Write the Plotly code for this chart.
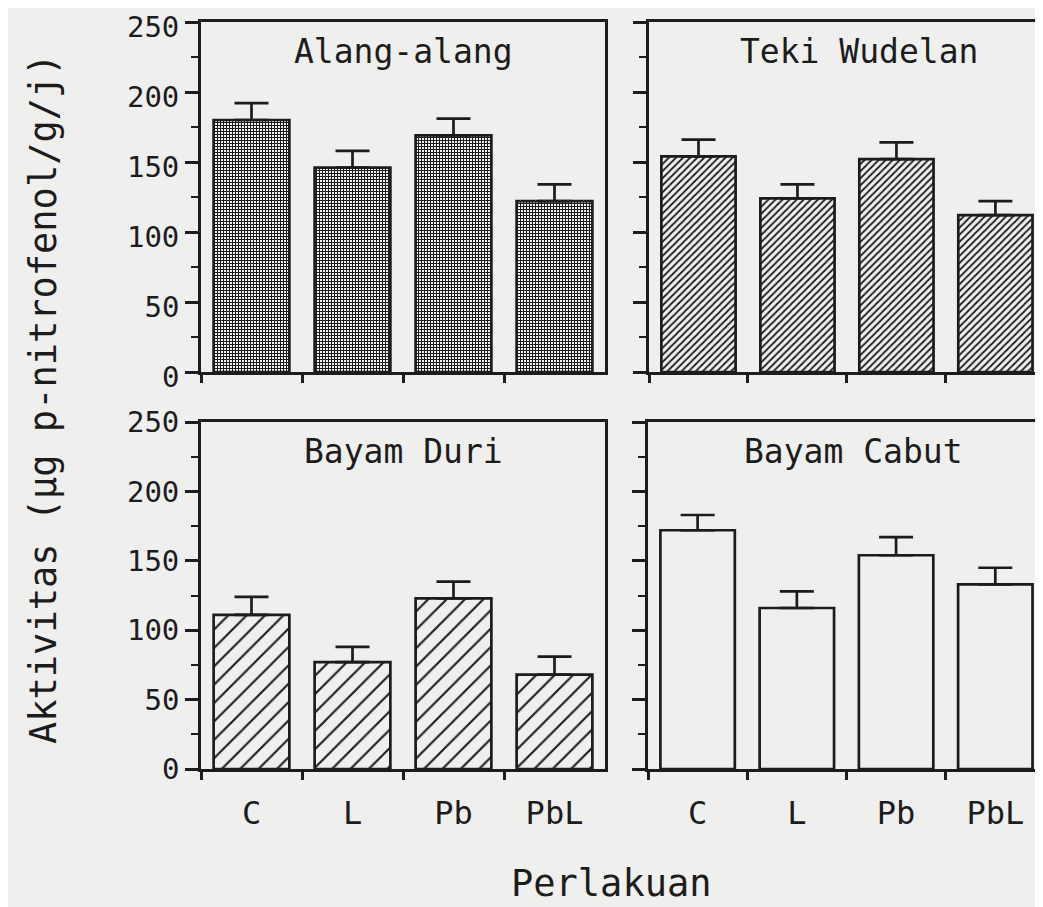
import plotly.graph_objects as go

categories = ["C", "L", "Pb", "PbL"]
panel_titles = ["Alang-alang", "Teki Wudelan", "Bayam Duri", "Bayam Cabut"]
alang_values = [180, 146, 169, 122]
alang_errors = [12, 12, 12, 12]
teki_values = [154, 124, 152, 112]
teki_errors = [12, 10, 12, 10]
duri_values = [111, 77, 123, 68]
duri_errors = [13, 11, 12, 13]
cabut_values = [172, 116, 154, 133]
cabut_errors = [11, 12, 13, 12]
y_ticks = [0, 50, 100, 150, 200, 250]
y_title = "Aktivitas (µg p-nitrofenol/g/j)"
x_title = "Perlakuan"

# page body has an 8px margin: figure is placed at (8, 8) in the window
OFF = 8
W, H = 1043 - 2 * OFF, 907 - OFF
BG = "#efefed"
INK = "#1c1c1c"
FONT = "DejaVu Sans Mono"

def px_x(s):
    return (s - OFF) / W

def px_y(s):
    return (H - (s - OFF)) / H

panels = [
    dict(vals=alang_values, errs=alang_errors, title=panel_titles[0],
         xd=[px_x(201), px_x(605)], yd=[px_y(372), px_y(22)],
         pattern=dict(shape="+", size=3, solidity=0.6, fgcolor=INK, bgcolor="white"),
         labels_y=True, labels_x=False, xr=[-0.5, 3.5], tx=0.5, shift=5),
    dict(vals=teki_values, errs=teki_errors, title=panel_titles[1],
         xd=[px_x(649), 1.0], yd=[px_y(372), px_y(22)],
         pattern=dict(shape="/", size=5, solidity=0.35, fgcolor=INK, bgcolor=BG),
         labels_y=False, labels_x=False, xr=[-0.5, 3.4], tx=0.545, shift=0),
    dict(vals=duri_values, errs=duri_errors, title=panel_titles[2],
         xd=[px_x(201), px_x(605)], yd=[px_y(769), px_y(422)],
         pattern=dict(shape="/", size=13, solidity=0.16, fgcolor=INK, bgcolor=BG),
         labels_y=True, labels_x=True, xr=[-0.5, 3.5], tx=0.5, shift=0),
    dict(vals=cabut_values, errs=cabut_errors, title=panel_titles[3],
         xd=[px_x(648), 1.0], yd=[px_y(769), px_y(422)],
         pattern=None,
         labels_y=False, labels_x=True, xr=[-0.5, 3.4], tx=0.53, shift=0),
]

fig = go.Figure()
layout = {}
annotations = []
for i, p in enumerate(panels, start=1):
    xa = "x" if i == 1 else f"x{i}"
    ya = "y" if i == 1 else f"y{i}"
    marker = dict(color=BG, line=dict(color=INK, width=2.7))
    if p["pattern"] is not None:
        marker["pattern"] = p["pattern"]
    fig.add_trace(go.Bar(
        x=categories, y=p["vals"], xaxis=xa, yaxis=ya,
        marker=marker, width=0.75, showlegend=False,
        error_y=dict(type="data", symmetric=False, array=p["errs"],
                     arrayminus=[0] * len(p["errs"]),
                     color=INK, thickness=2.7, width=17),
    ))
    xkey = "xaxis" if i == 1 else f"xaxis{i}"
    ykey = "yaxis" if i == 1 else f"yaxis{i}"
    layout[xkey] = dict(
        domain=p["xd"], anchor=ya, type="category", range=p["xr"],
        showline=True, linecolor=INK, linewidth=2.7, mirror=True,
        ticks="outside", tickson="boundaries", ticklen=8, tickwidth=2.5, tickcolor=INK,
        showticklabels=p["labels_x"], ticklabelstandoff=14,
        showgrid=False, zeroline=False, automargin=False,
        tickfont=dict(family=FONT, size=32, color=INK), fixedrange=True,
    )
    layout[ykey] = dict(
        domain=p["yd"], anchor=xa, range=[0, 250],
        tickvals=y_ticks, showticklabels=p["labels_y"], ticklabeloverflow="allow",
        ticklabelshift=p["shift"],
        showline=True, linecolor=INK, linewidth=2.7, mirror=True,
        ticks="outside", ticklen=13, tickwidth=2.5, tickcolor=INK,
        minor=dict(ticks="outside", ticklen=7, tickwidth=2, tickcolor=INK, dtick=25),
        showgrid=False, zeroline=False, automargin=False,
        tickfont=dict(family=FONT, size=29, color=INK), fixedrange=True,
    )
    annotations.append(dict(
        text=p["title"], xref=f"{xa} domain", yref=f"{ya} domain",
        x=p["tx"], y=0.915, xanchor="center", yanchor="middle",
        showarrow=False, font=dict(family=FONT, size=33, color=INK),
    ))

annotations.append(dict(
    text=y_title, xref="paper", yref="paper", x=px_x(43), y=px_y(399),
    xanchor="center", yanchor="middle", textangle=-90, showarrow=False,
    font=dict(family=FONT, size=37, color=INK),
))
annotations.append(dict(
    text=x_title, xref="paper", yref="paper", x=px_x(611), y=0.0,
    xanchor="center", yanchor="bottom", showarrow=False,
    font=dict(family=FONT, size=37, color=INK),
))

fig.update_layout(
    template="none",
    width=W, height=H, autosize=False, margin=dict(l=0, r=0, t=0, b=0, pad=0),
    paper_bgcolor=BG, plot_bgcolor=BG, bargap=0.25,
    annotations=annotations, **layout,
)

fig.write_html("out.html")
